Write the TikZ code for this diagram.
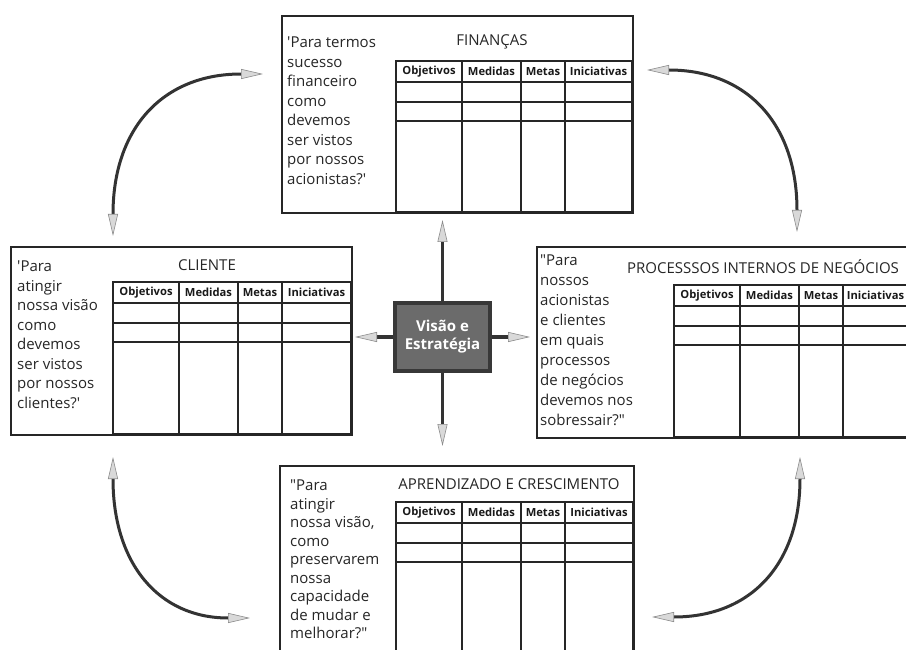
\documentclass[tikz,border=0pt]{standalone}
\usepackage{fontspec}
\newfontfamily\osans{Open Sans}
\usetikzlibrary{arrows.meta}
\newcommand{\bsctable}[5]{% #1 name, #2 left, #3 top, #4 right, #5 bottom
  \draw[grid] (#2,#3) rectangle (#4,#5);
  \foreach \dx in {66,125,169} \draw[grid] (#2+\dx,#3) -- (#2+\dx,#5);
  \foreach \dy in {21,41,60} \draw[grid] (#2,#3+\dy) -- (#4,#3+\dy);
  \node[head] (#1-h1) at (#2+33,#3+10.5) {Objetivos};
  \node[head] (#1-h2) at (#2+95.5,#3+10.5) {Medidas};
  \node[head] (#1-h3) at (#2+147,#3+10.5) {Metas};
  \node[head] (#1-h4) at ({(#2+169+#4)/2},#3+10.5) {Iniciativas};
}
\begin{document}
\begin{tikzpicture}[x=1pt,y=-1pt,
  frame/.style={draw=black!85, line width=1.6pt, rectangle, inner sep=0pt, anchor=north west},
  grid/.style={draw=black!85, line width=1.3pt},
  qtext/.style={anchor=north west, inner sep=0pt, align=left, text=black!85},
  qfont/.style={font=\osans\fontsize{15}{#1}\selectfont},
  ptitle/.style={anchor=base, inner sep=0pt, text=black!85, font=\osans\fontsize{15}{18}\selectfont},
  head/.style={inner sep=0pt, text=black!90, font=\osans\bfseries\fontsize{11.2}{13}\selectfont},
  shaft/.style={draw=black!80, line width=#1,
    >={Triangle[length=22pt,width=10pt,fill=black!15,color=black!45,line width=0.6pt]}},
  shaft/.default=3pt
]
\useasboundingbox (0,0) rectangle (906,650);
\clip (0,0) rectangle (906,650);
\fill[white] (0,0) rectangle (906,650);

% ---- perspective frames
\node[frame, minimum width=351pt, minimum height=197pt] (fin) at (281,15) {};
\node[frame, minimum width=341pt, minimum height=188pt] (cli) at (10,246) {};
\node[frame, minimum width=379pt, minimum height=191pt] (proc) at (536,246) {};
\node[frame, minimum width=354pt, minimum height=195pt] (apr) at (279,465) {};

% ---- tables
\bsctable{fint}{396}{61}{632}{212}
\bsctable{clit}{113}{282}{351}{434}
\bsctable{proct}{674}{285}{908}{437}
\bsctable{aprt}{396}{502}{633}{660}

% ---- titles
\node[ptitle] (fin-title) at (492,45.5) {FINANÇAS};
\node[ptitle] (cli-title) at (207,270.5) {CLIENTE};
\node[ptitle] (proc-title) at (763,273) {PROCESSSOS INTERNOS DE NEGÓCIOS};
\node[ptitle] (apr-title) at (509,489.5) {APRENDIZADO E CRESCIMENTO};

% ---- questions
\node[qtext, qfont=19.5] (fin-q) at (287,37) {'Para termos\\sucesso\\financeiro\\como\\devemos\\ser vistos\\por nossos\\acionistas?'};
\node[qtext, qfont=19.5] (cli-q) at (17,261) {'Para\\atingir\\nossa visão\\como\\devemos\\ser vistos\\por nossos\\clientes?'};
\node[qtext, qfont=20] (proc-q) at (540,255) {"Para\\nossos\\acionistas\\e clientes\\em quais\\processos\\de negócios\\devemos nos\\sobressair?"};
\node[qtext, qfont=18.5] (apr-q) at (290,480) {"Para\\atingir\\nossa visão,\\como\\preservarem\\nossa\\capacidade\\de mudar e\\melhorar?"};

% ---- centre
\node[draw=black!78, fill=black!58, line width=4pt, minimum width=95pt, minimum height=68pt,
      inner sep=0pt, align=center, text=white, font=\osans\bfseries\fontsize{15}{18}\selectfont]
      (vis) at (442.5,337) {Visão e\\Estratégia};
\coordinate (up) at (442.5,220);
\coordinate (down) at (442.5,446);
\coordinate (left) at (355,337);
\coordinate (right) at (530,337);
\draw[shaft=3pt,->] (vis.north) -- (up);
\draw[shaft=3pt,->] (vis.south) -- (down);
\draw[shaft=4pt,->] (vis.west) -- (left);
\draw[shaft=4pt,->] (vis.east) -- (right);

% ---- curved arrows
\coordinate (tl-a) at (113,236);
\coordinate (tl-b) at (263,74);
\coordinate (tr-a) at (647,70);
\coordinate (tr-b) at (797,232);
\coordinate (bl-a) at (113,457);
\coordinate (bl-b) at (250,618);
\coordinate (br-a) at (800,457);
\coordinate (br-b) at (652,617);
\draw[shaft=3pt,<->] (tl-a) .. controls (113,128) and (163,74) .. (tl-b);
\draw[shaft=3pt,<->] (tr-a) .. controls (747,70) and (797,124) .. (tr-b);
\draw[shaft=3pt,<->] (bl-a) .. controls (113,564) and (159,618) .. (bl-b);
\draw[shaft=3pt,<->] (br-a) .. controls (800,564) and (751,617) .. (br-b);
\end{tikzpicture}
\end{document}
